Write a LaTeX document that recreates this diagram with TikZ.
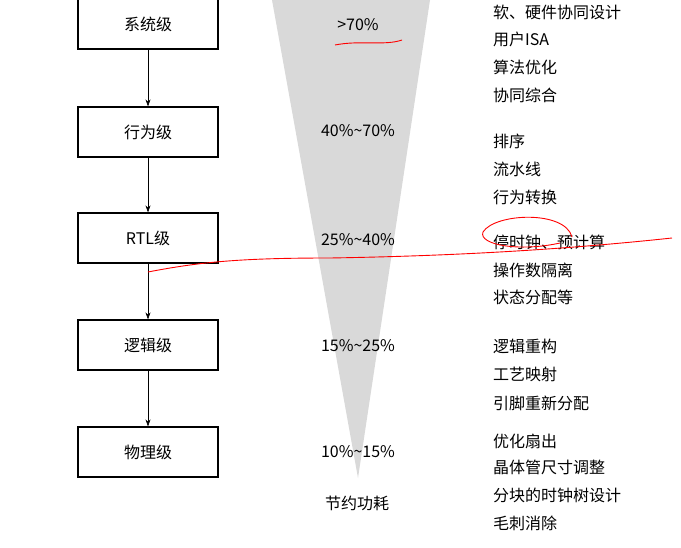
\documentclass[tikz,border=0pt]{standalone}
\usepackage{fontspec}
\setmainfont{Noto Sans CJK SC}
\usetikzlibrary{arrows.meta}
\begin{document}
\begin{tikzpicture}[x=1pt,y=-1pt,
 lvl/.style={draw,line width=1.2pt,minimum width=140pt,minimum height=50pt,font=\fontsize{16}{18}\selectfont},
 txt/.style={font=\fontsize{16}{18}\selectfont,anchor=west,inner sep=0},
 pct/.style={font=\fontsize{16}{18}\selectfont,inner sep=0},
 arr/.style={-{Stealth[length=7pt,width=5pt]},line width=0.6pt},
 red/.style={draw=red,line width=0.9pt}]
\useasboundingbox (0,0) rectangle (681,548);
\fill[gray!30] (272,0) -- (430,0) -- (358,478) -- cycle;
\node[lvl] (a) at (148,24) {系统级};
\node[lvl] (b) at (148,132) {行为级};
\node[lvl] (c) at (148,238) {RTL级};
\node[lvl] (d) at (148,345) {逻辑级};
\node[lvl] (e) at (148,452) {物理级};
\foreach \u/\v in {a/b,b/c,c/d,d/e} \draw[arr] (\u) -- (\v);
\node[pct] (p1) at (358,25) {>70\%};
\node[pct] (p2) at (358,131) {40\%\textasciitilde70\%};
\node[pct] (p3) at (358,240) {25\%\textasciitilde40\%};
\node[pct] (p4) at (358,346) {15\%\textasciitilde25\%};
\node[pct] (p5) at (358,452) {10\%\textasciitilde15\%};
\node[pct] (p6) at (357,503) {节约功耗};
\foreach \t/\y in {软、硬件协同设计/12,用户ISA/39,算法优化/67,协同综合/95,排序/141,流水线/169,行为转换/197,停时钟、预计算/242,操作数隔离/270,状态分配等/297,逻辑重构/346,工艺映射/374,引脚重新分配/403,优化扇出/441,晶体管尺寸调整/467,分块的时钟树设计/495,毛刺消除/523}
  \node[txt] at (493,\y) {\t};
\draw[red] (335,45) .. controls (360,40) and (385,46) .. (402,40);
\draw[red] (572,237) .. controls (565,210) and (495,213) .. (483,232) .. controls (478,245) and (520,252) .. (560,243);
\draw[red] (148,272) .. controls (200,262) and (240,258) .. (330,258) .. controls (450,256) and (560,250) .. (672,238);
\end{tikzpicture}
\end{document}
